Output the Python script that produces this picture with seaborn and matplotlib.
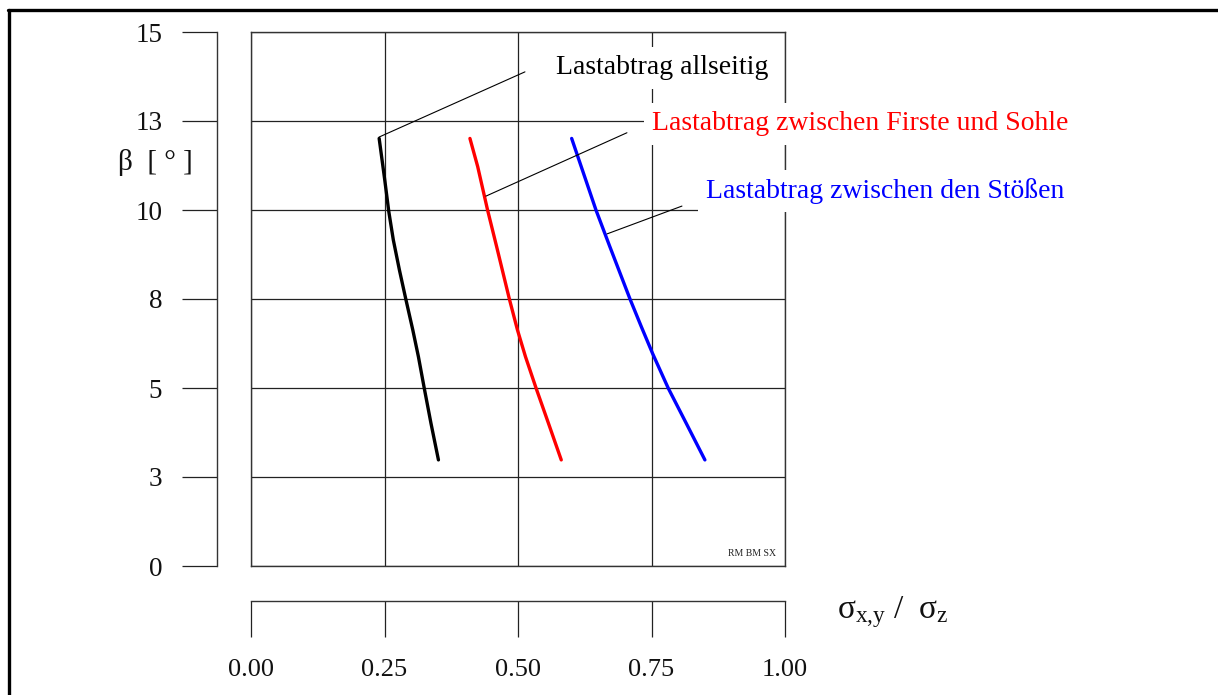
import numpy as np
import pandas as pd
import matplotlib
matplotlib.use("Agg")
import matplotlib.pyplot as plt
import seaborn as sns
from matplotlib.lines import Line2D

# ---------------- data ----------------
beta_allseitig = [12.01, 10.84, 9.96, 9.16, 8.31, 7.49, 6.63, 5.88, 4.99, 4.01, 2.98]
ratio_allseitig = [0.240, 0.2505, 0.258, 0.2665, 0.278, 0.290, 0.303, 0.3135, 0.3245, 0.337, 0.351]

beta_firste = [12.01, 11.22, 10.00, 8.97, 7.49, 6.63, 5.88, 4.99, 4.01, 2.98]
ratio_firste = [0.410, 0.4245, 0.443, 0.460, 0.484, 0.499, 0.514, 0.534, 0.557, 0.581]

beta_stoesse = [12.01, 10.00, 8.97, 7.49, 6.72, 5.97, 4.99, 4.01, 2.98]
ratio_stoesse = [0.6005, 0.646, 0.672, 0.710, 0.731, 0.752, 0.7815, 0.815, 0.850]

series_names = ["Lastabtrag allseitig",
                "Lastabtrag zwischen Firste und Sohle",
                "Lastabtrag zwischen den Stößen"]
series_colors = ["#000000", "#ff0000", "#0000ff"]

# leader lines (curve point -> towards label) and label anchors
leader_x = [[0.240, 0.513], [0.440, 0.704], [0.667, 0.807]]
leader_y = [[12.05, 13.88], [10.39, 12.17], [9.33, 10.11]]
label_x = [0.571, 0.751, 0.852]
label_y = [13.99, 12.42, 10.53]

x_ticks = [0.0, 0.25, 0.50, 0.75, 1.00]
x_tick_labels = ["0.00", "0.25", "0.50", "0.75", "1.00"]
y_ticks = [0, 2.5, 5, 7.5, 10, 12.5, 15]
y_tick_labels = ["0", "3", "5", "8", "10", "13", "15"]

y_label = "β  [ ° ]"
x_label = r"$\mathrm{σ_{x{,}y}}\ /\ \ \mathrm{σ_{z}}$"
corner_note = "RM BM SX"

# ---------------- styling ----------------
sns.set_theme(style="white")
plt.rcParams["font.family"] = ["Liberation Serif", "DejaVu Serif"]
plt.rcParams["mathtext.fontset"] = "custom"
plt.rcParams["mathtext.rm"] = "Liberation Serif"
plt.rcParams["mathtext.it"] = "Liberation Serif:italic"
plt.rcParams["mathtext.bf"] = "Liberation Serif:bold"

W, H = 1218, 695
fig = plt.figure(figsize=(W / 100, H / 100), dpi=100)
fig.patch.set_facecolor("white")

# main gridded box
ax = fig.add_axes([251 / W, (H - 566) / H, 534 / W, 534 / H])
df = pd.concat([
    pd.DataFrame({"ratio": ratio_allseitig, "beta": beta_allseitig, "series": series_names[0]}),
    pd.DataFrame({"ratio": ratio_firste, "beta": beta_firste, "series": series_names[1]}),
    pd.DataFrame({"ratio": ratio_stoesse, "beta": beta_stoesse, "series": series_names[2]}),
], ignore_index=True)
sns.lineplot(data=df, x="ratio", y="beta", hue="series", hue_order=series_names,
             palette=series_colors, sort=False, estimator=None, legend=False,
             lw=2.4, ax=ax, zorder=4)
for ln in ax.lines:
    ln.set_solid_capstyle("round")
    ln.set_solid_joinstyle("round")

ax.set_xlim(0, 1)
ax.set_ylim(0, 15)
ax.set_xticks(x_ticks)
ax.set_yticks(y_ticks)
ax.tick_params(length=0, labelbottom=False, labelleft=False)
ax.set_xlabel("")
ax.set_ylabel("")
ax.grid(True, color="#222222", lw=0.9, zorder=1)
ax.set_axisbelow(True)
for sp in ax.spines.values():
    sp.set_visible(True)
    sp.set_color("#333333")
    sp.set_linewidth(1.0)
    sp.set_zorder(1)

# leader lines and labels
for lx, ly in zip(leader_x, leader_y):
    ax.plot(lx, ly, color="black", lw=0.8, zorder=5, clip_on=False)
for name, col, tx, ty in zip(series_names, series_colors, label_x, label_y):
    ax.text(tx, ty, name, color=col, fontsize=20, ha="left", va="center",
            zorder=6, clip_on=False,
            bbox=dict(facecolor="white", edgecolor="none", pad=6))

ax.text(0.983, 0.365, corner_note, fontsize=7, ha="right", va="center",
        color="#222222", zorder=6)

# detached y axis
ax_y = fig.add_axes([217 / W, (H - 566) / H, 0.0001, 534 / H])
ax_y.set_ylim(0, 15)
ax_y.set_yticks(y_ticks, y_tick_labels)
ax_y.set_xticks([])
ax_y.patch.set_visible(False)
for k, sp in ax_y.spines.items():
    sp.set_visible(k == "left")
ax_y.spines["left"].set_color("#333333")
ax_y.spines["left"].set_linewidth(1.0)
ax_y.tick_params(axis="y", direction="out", length=25.5, width=0.9,
                 color="#222222", pad=14, labelsize=19.5, labelcolor="#111111",
                 left=True)
ax_y.set_ylabel(y_label, rotation=0, fontsize=21, ha="center", va="center",
                color="#111111")
ax_y.yaxis.set_label_coords(155 / W, (H - 163) / H, transform=fig.transFigure)

# detached x axis
ax_x = fig.add_axes([251 / W, (H - 601) / H, 534 / W, 0.0001])
ax_x.set_xlim(0, 1)
ax_x.set_xticks(x_ticks, x_tick_labels)
ax_x.set_yticks([])
ax_x.patch.set_visible(False)
for k, sp in ax_x.spines.items():
    sp.set_visible(k == "bottom")
ax_x.spines["bottom"].set_color("#333333")
ax_x.spines["bottom"].set_linewidth(1.0)
ax_x.tick_params(axis="x", direction="out", length=26, width=0.9,
                 color="#222222", pad=16, labelsize=19, labelcolor="#111111",
                 bottom=True)

fig.text(837 / W, (H - 612) / H, x_label, fontsize=24, ha="left", va="center",
         color="#111111")

# outer frame (top and left edges)
fig.add_artist(Line2D([8 / W, 1.0], [(H - 10) / H, (H - 10) / H],
                      transform=fig.transFigure, color="black", lw=2.4))
fig.add_artist(Line2D([9 / W, 9 / W], [(H - 10) / H, 0.0],
                      transform=fig.transFigure, color="black", lw=2.4))

fig.savefig("out.png", dpi=100)
